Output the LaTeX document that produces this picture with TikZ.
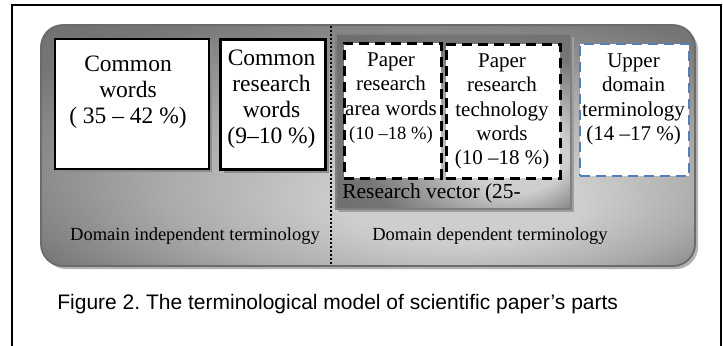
\documentclass[tikz,border=0pt]{standalone}
\usepackage{fontspec}
\setmainfont{Liberation Serif}
\newfontfamily\capsans{Liberation Sans}
\usetikzlibrary{shadows}
\frenchspacing
\definecolor{udblue}{RGB}{79,129,189}
\definecolor{gLight}{RGB}{206,206,206}
\definecolor{gMid}{RGB}{170,170,170}
\definecolor{gDark}{RGB}{118,118,118}
\definecolor{gDarker}{RGB}{100,100,100}
\pgfdeclareradialshading{panelshade}{\pgfpoint{9bp}{-14bp}}{color(0bp)=(gLight); color(9bp)=(gLight); color(21bp)=(gMid); color(34bp)=(gDark); color(50bp)=(gDarker)}
\pgfdeclareradialshading{vectorshade}{\pgfpoint{17bp}{-12bp}}{color(0bp)=(gLight); color(11bp)=(gLight); color(28bp)=(gDark); color(50bp)=(gDarker)}

\begin{document}
\begin{tikzpicture}[x=0.5pt,y=-0.5pt,
  wordbox/.style={draw, fill=white, anchor=north west, inner sep=0pt,
    drop shadow={shadow xshift=1.5pt, shadow yshift=-1.5pt, fill=black!45, opacity=1}},
  dashbox/.style={draw, fill=white, anchor=north west, inner sep=0pt,
    line width=1.4pt, dash pattern=on 5pt off 3pt},
  boxtext/.style={align=center, inner sep=0pt, anchor=north,
    font=\fontsize{11.75}{13}\selectfont},
  papertext/.style={align=center, inner sep=0pt, anchor=north,
    font=\fontsize{10.5}{12.15}\selectfont},
  domaintext/.style={inner sep=0pt, anchor=base, font=\fontsize{9.25}{11}\selectfont}]
\useasboundingbox (0,0) rectangle (723,345);
\draw[line width=0.75pt] (12,360) -- (12,5) -- (721,5) -- (721,360);

\fill[black!30, rounded corners=11pt] (44,28) rectangle (698,269);
\shade[shading=panelshade, rounded corners=11pt] (41,25) rectangle (695,266);
\draw[black!58, line width=0.9pt, rounded corners=11pt] (41,25) rectangle (695,266);

\node[wordbox, line width=1pt, minimum width=77pt, minimum height=65pt] (common) at (54,38) {};
\node[wordbox, line width=1.5pt, minimum width=52.5pt, minimum height=65pt] (commonres) at (219,38) {};
\node[boxtext] (commontxt) at (128,56) {Common\\words\\( 35 – 42 \%)};
\node[boxtext] (commonrestxt) at (271.5,50) {Common\\research\\words\\(9–10 \%)};

\draw[line width=0.9pt, dash pattern=on 1pt off 1pt] (331,26) -- (331,266);

\node[shade, shading=vectorshade, draw=black!50, line width=1pt, anchor=north west,
  inner sep=0pt, minimum width=117.5pt, minimum height=87.5pt,
  drop shadow={shadow xshift=1.5pt, shadow yshift=-1.5pt, fill=black!38, opacity=1}] (vector) at (335,33) {};
\node[dashbox, minimum width=48.5pt, minimum height=67.5pt] (area) at (343,42) {};
\node[dashbox, minimum width=57pt, minimum height=67pt] (techn) at (445,43) {};
\node[dashbox, draw=udblue, line width=1.2pt, minimum width=54.5pt, minimum height=66pt] (upper) at (579,43) {};
\node[papertext] (areatxt) at (391,52.5) {Paper\\research\\area words\\{\fontsize{9.3}{12}\selectfont(10 –18 \%)}};
\node[papertext] (techntxt) at (502,53.5) {Paper\\research\\technology\\words\\(10 –18 \%)};
\node[papertext] (uppertxt) at (633.5,53.5) {Upper\\domain\\terminology\\(14 –17 \%)};
\node[inner sep=0pt, anchor=base west, font=\fontsize{10.7}{12}\selectfont] (vectortxt) at (342,198) {Research vector (25-};

\node[domaintext] (indep) at (195,240) {Domain independent terminology};
\node[domaintext] (dep) at (490,240) {Domain dependent terminology};

\node[inner sep=0pt, anchor=base west, font=\capsans\fontsize{10.5}{12}\selectfont] (caption) at (57,309) {Figure 2. The terminological model of scientific paper’s parts};
\end{tikzpicture}
\end{document}
